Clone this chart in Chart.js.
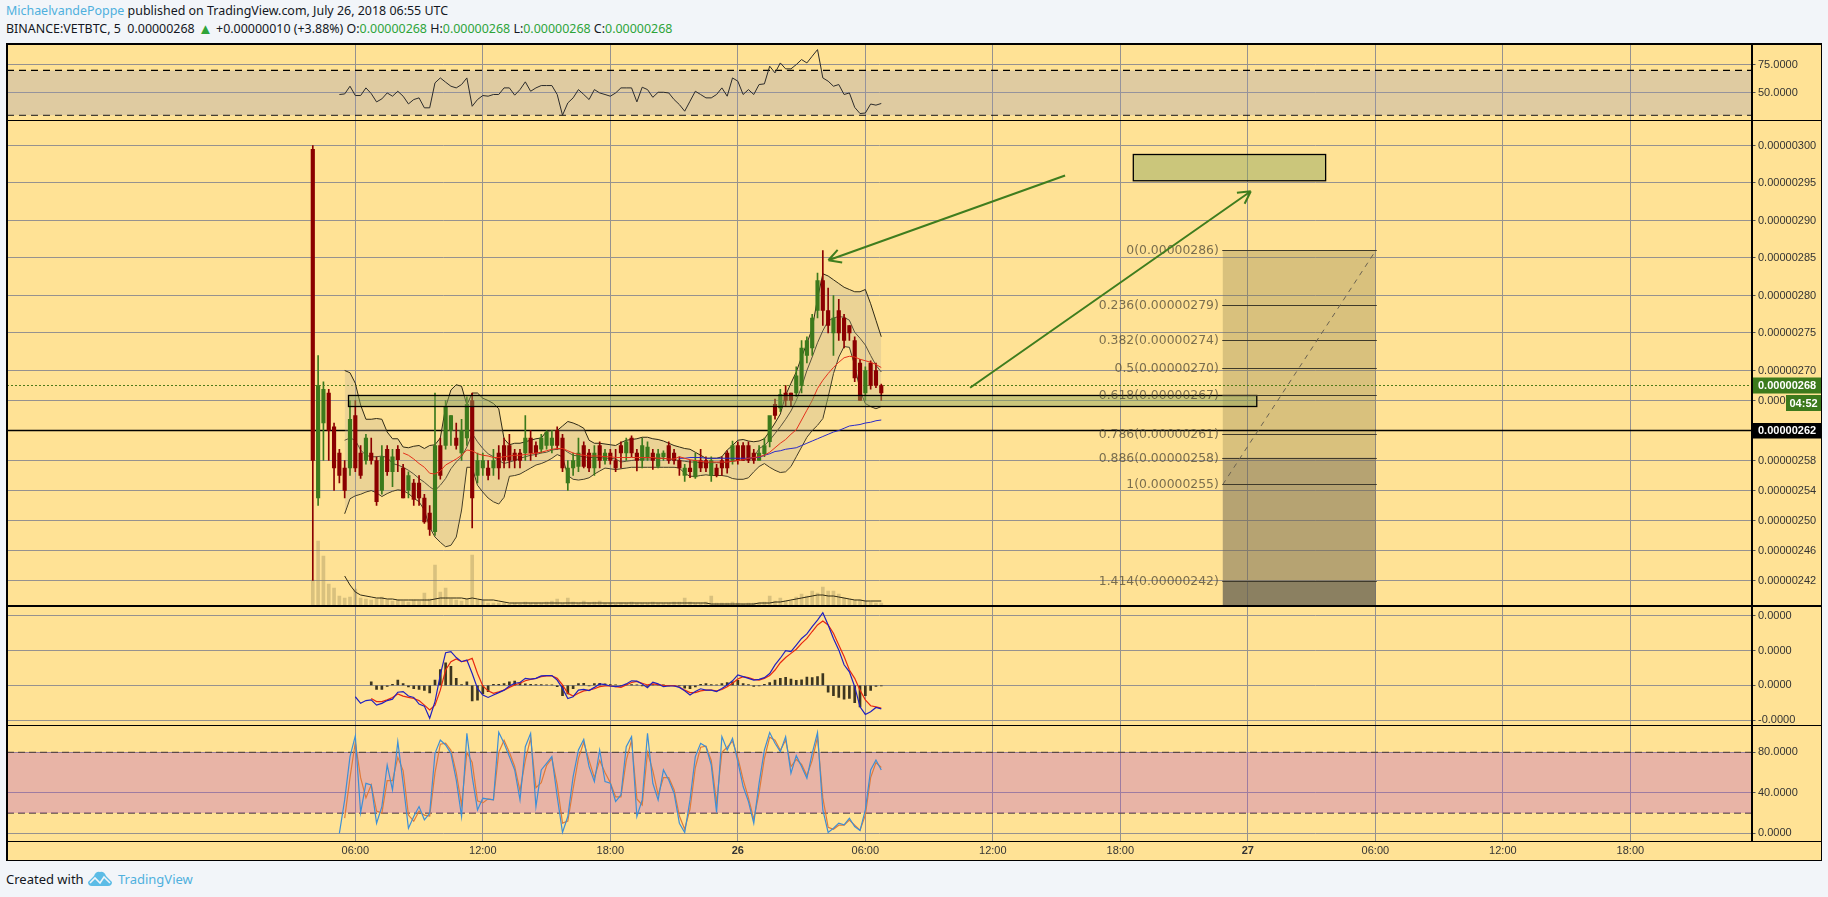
<!DOCTYPE html>
<html>
<head>
<meta charset="utf-8">
<title>VETBTC</title>
<script src="https://cdn.jsdelivr.net/npm/chart.js@4"></script>
<style>
  html, body { margin: 0; padding: 0; background: #f2f5f9; width: 1828px; height: 897px; overflow: hidden; }
  body { position: relative; font-family: "Noto Sans", sans-serif; color: #131722; }
  canvas { position: absolute; left: 7px; background: #ffe295; }
  .head { position: absolute; left: 6px; font-size: 12.45px; white-space: nowrap; line-height: 16px; }
  .blue { color: #4fb0dd; }
  .green { color: #2ea43a; }
  .tri { font-size: 15px; line-height: 0; vertical-align: -1px; }
  .rule { position: absolute; background: #000; z-index: 5; }
  .foot { position: absolute; top: 869px; font-size: 13px; line-height: 20px; white-space: nowrap; }
</style>
</head>
<body>
<div class="head" style="top:3px"><span class="blue">MichaelvandePoppe</span> published on TradingView.com, July 26, 2018 06:55 UTC</div>
<div class="head" style="top:21px">BINANCE:VETBTC, 5&nbsp; 0.00000268 <span class="green tri">▲</span> +0.00000010 (+3.88%) O:<span class="green">0.00000268</span> H:<span class="green">0.00000268</span> L:<span class="green">0.00000268</span> C:<span class="green">0.00000268</span></div>

<canvas id="rsi" width="1814" height="76" style="top:44px"></canvas>
<canvas id="main" width="1814" height="486" style="top:120px"></canvas>
<canvas id="macd" width="1814" height="119" style="top:606px"></canvas>
<canvas id="stoch" width="1814" height="135" style="top:725px"></canvas>

<!-- frame and pane separators -->
<div class="rule" style="left:6px;top:43px;width:1816px;height:1.5px"></div>
<div class="rule" style="left:6px;top:119.5px;width:1816px;height:1.5px"></div>
<div class="rule" style="left:6px;top:605px;width:1816px;height:1.5px"></div>
<div class="rule" style="left:6px;top:724.5px;width:1816px;height:1.5px"></div>
<div class="rule" style="left:6px;top:840.5px;width:1816px;height:1.5px"></div>
<div class="rule" style="left:6px;top:859.5px;width:1816px;height:1.5px"></div>
<div class="rule" style="left:6px;top:43px;width:1.5px;height:818px"></div>
<div class="rule" style="left:1820.5px;top:43px;width:1.5px;height:818px"></div>
<div class="rule" style="left:1751px;top:43px;width:1.5px;height:798px"></div>

<div class="foot" style="left:6px">Created with</div>
<svg style="position:absolute;left:88px;top:871px" width="24" height="15" viewBox="0 0 24 15">
  <path d="M0 11 L6 5 Q8 0 12 1 Q16 0 18 5 L24 11 Q24 15 20 15 L4 15 Q0 15 0 11Z" fill="#5cbce6"/>
  <path d="M2 12 L7 7 L12 12 L16 6 L22 12" fill="none" stroke="#f2f5f9" stroke-width="1.6"/>
</svg>
<div class="foot blue" style="left:118px">TradingView</div>

<script>
// candles, 15 minute steps from 04:00 on the 25th, price in satoshi
const opens = [299.5,253,263,267,262.5,259,257,257,264,259,258,259,258,254,259.5,256.5,259.5,257,254,255,255,253,251,248.5,260,260,262,261,259,261,266,256,257,257,257,259,260,260,259,259,259,261,260,259.5,260,260,262,261,255,257,257.2,260,259,257,260,258,259,258,
  260,259,261,259,258,258.5,259,257.2,258.5,260,259,258,256,257,255.8,258,258,256,257,258,259,258,260,260,260,259,258,258.9,260.5,265.5,265,267,267,267,268,272,273,278,282,278,275,278,277,276,274,271,267,271,270,268];
const closes = [258,268,267.5,262,257,256,254,263.5,257,256,261,258,252.5,258.5,256.5,258.5,258.1,253,256,252.8,253,249.8,248.8,260,256,265.2,264,260,262,265.5,253,258,258,256,258,257,258,258,258,258,261,259,259,261,261.8,261,260,257,257,258,259,257.2,257,259,258,259,258,257,
  259,260.5,259,258,260,259.8,258,258.9,259,258,258,257,257,256.5,258,257,257,258,256,257,257,260,258,258,258,258,259,260,264,264,266.8,266,266,269.3,273,274,277,282,278,276,277,275,274,275,269,266,270,268,268,267];
const highs = [300,272,268.5,267.5,263,259.5,258,266,266,260,261.5,261,258.5,260,260,259.5,260,257.5,256.5,255.5,256,253.5,252,267,261,266,264,263,263.5,266.5,267,259,259,258,259.5,260,261,261.5,259.5,259.5,264,262,260.5,261.5,262,262,262.5,261.5,258,259,261,260.5,259.5,260,260.5,259.5,259.5,259.5,
  260.5,261,261.3,259.5,261,260.5,259.5,259.5,259.3,260.5,259.5,258.5,257.5,258,259,259.5,258.5,258.5,257.5,258.5,259.3,260.6,260.5,260.4,260.5,259.5,260,261,263,266.2,267.5,268,267,270.5,274,274.5,277.5,283,286,281,280,279.5,277.5,276,274.5,271.5,270.5,271.3,271,268.2];
const lows = [242,252,258,258,254,255,253,256,256.5,255.6,257.5,257.5,252,253.5,256,254.5,256.5,253,253,252,252,249.6,248,248,255.5,259.5,260,259.5,258,260,249,255,256,255.4,256,255.5,257,257,257,257,258,258,258.5,259,259.5,259,259.5,256.5,254,256,256.5,257,256.5,256,257,257.5,257.5,256.5,
  257,258,258.5,256.6,257,258,256.8,257,258,257.6,257.5,256,255.2,255.7,255.6,256.5,256.5,255.2,255.8,256,256.3,257.5,257.5,258,257.7,257.6,258,258.5,259.8,263.5,264.5,265.2,265.2,266.5,267,271,272,277,276,275,272,274,273,274,268.5,266,266,267.5,267.7,266];
const volumes = [26,65,50,22,18,10,8,9,17,8,7,6,7,9,6,5,6,5,4,6,5,13,7,41,14,18,7,6,5,7,51,6,5,3,3,3,3,2,3,2,4,3,3,3,4,5,7,3,8,4,3,5,3,4,5,3,3,2,
  3,3,4,3,3,3,4,3,3,3,4,4,8,4,3,3,4,10,3,3,3,4,3,2,3,3,3,4,10,5,8,5,5,9,12,10,15,13,19,15,15,12,8,7,6,6,5,4,3,3];

// bollinger bands, these start at candle 6
const bbUpper = [270,269.7,268.3,265.4,263.5,263.5,263.6,263.5,261.8,260.9,260.9,259.8,259.7,259.9,260,259.6,260,260.1,261,265.1,267.4,268.1,267.9,265.4,267,267,266.3,266,265.6,264.9,260.9,260.1,260.3,260.3,260.5,260.7,260.9,261,261.9,262,262,262.6,263.2,263,262.7,262.3,260.7,260.3,260.3,260.2,260.1,260,
  260.4,260.7,260.8,260.9,261.1,261.1,260.9,260.8,260.6,260.3,260,259.8,259.6,259.5,259.1,258.7,258.3,258.3,258.3,258.5,259.4,260,260.7,260.8,260.6,260.5,260.6,260.9,261.9,263,264.2,266.7,268.3,269.8,271.8,273.6,275.6,279.6,282.9,282.6,282.1,281.6,281.1,280.8,280.5,280.5,280.8,278.9,276.7,274.5];
const bbBasis = [260.7,261,260.7,259.4,258.7,258.5,258.5,258.6,258.4,257.6,257.4,257.1,256.7,256.2,255.6,255.1,254.5,254,254.7,255.6,256.9,257.8,258.5,259.8,261.6,260.5,259.6,258.9,258.5,258,257.6,257.8,258,258.3,258.5,258.7,258.8,259,259.1,259.4,259.5,259.6,259.1,258.7,258.6,258.5,258.4,258.4,258.4,258.3,258.3,258.2,
  257.8,257.9,258,258.1,258.2,258.2,258.2,258.3,258.3,258.2,258.1,258,257.9,257.8,257.8,257.7,257.7,257.7,257.7,257.7,257.8,257.9,258,258.1,258.2,258.4,259.6,260,260.7,261.6,262.5,263.5,264.6,266,267.8,270,271.8,273.7,275.3,276.6,277,277.2,277.1,276.7,275.1,274.3,273.4,272,270.7,269.8];
const bbLower = [250.9,252.9,253.3,253.5,253.8,254,253.7,253.2,253.6,253.9,254.1,254,253.6,253,252.5,251.4,249.1,247.8,247.1,246.5,246.7,247.8,251.4,257.1,257.1,254.7,253.8,253,252.5,252.2,253.1,255.9,256,256.2,256.6,257,257.4,257.6,257.9,258.3,258.8,258.5,256,255.5,255.4,255.5,255.7,256.2,256.6,257,256.9,256.8,
  256.9,257,257.1,257.1,257.1,257.1,257.1,257.1,257.1,257.1,257.1,257,256.3,255.9,255.9,256,256.1,256,256,256,255.9,255.6,255.5,255.5,255.7,256.5,257.2,257.6,257.1,256.7,256.4,256.5,257.2,258.5,259.8,261.1,262,262.7,263.6,266.5,269.6,271.8,273.2,273.1,270.7,267.4,265.6,265.2,264.9,265.2];
// moving averages, red from candle 17, blue from candle 69
const emaRed = [259,258.7,258.2,257.6,257.1,256.3,256.2,256.6,257.4,257.8,258.2,258.7,259.4,259.3,258.9,258.7,258.6,258.4,258.4,258.5,258.6,258.7,258.7,258.8,258.9,259,259.1,259.3,259.5,259.6,259.6,259.3,259,258.8,258.7,258.6,258.6,258.6,258.5,258.5,258.4,
  258.4,258.4,258.4,258.4,258.4,258.4,258.4,258.3,258.3,258.2,258.2,258.5,258.3,258.1,258,257.9,257.8,257.8,257.8,257.8,257.8,257.9,258,258.1,258.3,258.4,258.5,258.7,259.1,259.7,260.3,260.8,261.5,262.1,263.4,264.7,266,267.6,268.7,269.6,270.4,271.1,271.7,271.9,271.8,271.5,271.3,271.1,270.8,270.4];
const emaBlue = [258.3,258.3,258.4,258.4,258.4,258.3,258.3,258.3,258.3,258.3,258.3,258.3,258.3,258.3,258.4,258.4,258.7,258.9,259.2,259.3,259.5,259.6,259.7,260,260.3,260.6,260.9,261.2,261.5,261.8,262,262.3,262.6,262.7,262.8,263,263.1,263.3,263.4];
const volumeMa = [30,21,14,11,10,9,8,8,7,7,6,6,6,6,6,6,6,7,8,8,8,8,8,7,8,7,6,6,6,5,4,3,3,3,3,3,3,3,3,3,3,3,3,3,3,3,3,3,3,3,3,3,
  3,3,3,3,3,3,3,3,3,3,3,3,3,3,3,3,3,2,2,2,2,2,2,2,2,2,3,3,3,4,4,5,6,7,8,9,10,11,11,10,10,9,8,7,6,6,5,5,5,5];

// rsi from candle 5
const rsiValues = [48.5,49,55.9,47.6,47.6,54.4,49.3,41.9,44.6,49.9,47,51.4,47,40.1,44,45.5,36.6,36.6,58.9,63.3,59.5,55.9,54.4,57.4,63.3,38,44,47.6,47,48.5,48.5,54.4,54.4,47.9,52.9,59.8,51.4,54.4,56.5,56.5,56.5,48.5,30,41,45.5,52.9,48.5,44,52.9,49.9,48.5,47,49.9,
  54.4,54.4,54.4,41.9,55,52.9,46,50.5,50.5,49.9,44,39.5,33.6,42.5,51.4,48.5,45.5,45.5,48.5,54.4,47,63.3,60.4,48.5,52.9,48.5,57.4,58,73.8,67.8,76.7,71.4,71.4,75.2,79.7,76.7,82.7,88.6,63.3,60.4,55.9,57.4,48.5,49.9,37,31.5,32,40,39,40.5];

// macd from candle 8, signal and histogram from candle 11
const macdLine = [-3.3,-5.2,-4.4,-4.2,-5.7,-5.2,-4.4,-4,-2,-1.8,-3.1,-3.5,-5.4,-6,-9.5,-4.7,3,9.4,9.7,8,6.8,7.3,3.4,-0.9,-2.8,-3.5,-2.8,-2.1,-1.4,-0.2,0.6,0.8,2,1.8,2,2.7,2.8,2.8,1.5,-0.9,-3.8,-3.3,-1.4,-1.2,-1.5,-0.6,0.4,0.2,-0.2,-0.4,
  -0.2,0.4,1.3,1.2,0.4,-0.7,0.9,0.4,-0.4,-0.2,-0.2,-0.6,-1.6,-2.8,-1.8,-1,-1.4,-1.4,-1.8,-0.9,0.1,1.3,3,2.5,2,1.5,1.7,2.2,3.4,5.9,7.8,10,9.7,11.6,13.5,14.8,16.9,18.8,20.9,17.4,13.5,10.2,5.9,3.9,-0.4,-6.2,-8.4,-7.6,-6.4,-6.8];
const macdSignal = [-3.8,-4.7,-4.7,-4.2,-3.5,-2.5,-3.1,-3.5,-3.8,-4.4,-5.7,-7.1,-5.7,-1.4,4.4,6.8,7.6,6.8,7.1,7.8,3.4,-0.2,-1.6,-2.3,-1.9,-1.4,-0.6,0.1,0.6,1.3,1.7,2,2.5,2.7,2.7,2,0.1,-2.3,-3.1,-2.3,-1.6,-1.4,-1,-0.4,-0.2,-0.2,-0.4,
  -0.6,0.1,0.8,1.1,0.6,0.1,0.4,0.2,0,-0.1,-0.1,-0.5,-1.4,-2.1,-2.1,-1.6,-1.4,-1.4,-1.6,-1.2,-0.4,0.6,1.8,2.5,2.2,1.7,1.5,2,2.8,4.4,6.5,8,9.2,10.4,12.1,13.5,15.5,17.4,18.5,17.4,15,11.6,8.3,4.4,2,-1.4,-4.2,-5.9,-6.2,-6.6];
const macdHist = [1,-1.2,-1.2,-0.3,0.3,1.5,0.5,-0.5,-1,-1.2,-1.5,-2.2,1.5,4.5,6.5,5.5,2,0.2,1,-4.5,-4.3,-2.5,-1.8,0.3,0.3,0.5,1,1.2,0.8,0.4,0.3,0.2,0.2,0.1,0.1,-0.4,-3,-2.5,-1,0.5,0.6,-0.2,0.5,0.6,0.4,0.2,0.1,
  -0.1,0.1,0.2,0.1,-0.1,-0.3,0.2,0.1,0.1,-0.1,-0.1,-0.2,-0.8,-1,-0.5,0.3,0.5,0.2,0.1,0.5,0.8,1,1.4,0.5,0.2,-0.3,-0.2,0.3,0.8,1.5,2,2.3,1.8,1.4,1.6,2.4,2.2,2.5,3.4,-2,-3,-3.5,-4,-3.8,-5,-6.2,-3,-1.5,-0.3,-0.2];

// stochastic, K from candle 5, D from candle 6
const stochK = [0,33,75.8,96.2,20.5,49.4,47.8,10,26.4,67.5,42.9,90.6,49.4,5,16.6,26.4,13.3,19.8,79,92.2,87.3,79,52.7,16.6,98.8,56,23.1,34.6,33.7,33,99.8,88.9,75.8,62.6,33,85.6,98.8,26.4,62.6,69.2,75.8,36.3,0.8,16.6,56,82.3,92.9,65.9,51.1,82.3,51.1,49.4,31.4,
  37.9,85.6,95.5,16.6,33,98.8,49.4,33,62.6,52.7,39.6,10,0.8,33,75.8,88.9,85.6,67.5,20.5,95.5,82.3,93.9,70.8,46.2,31.4,10,49.4,82.3,99.5,88.9,80.7,95.5,59.3,76.7,65.9,54.4,79,99.5,23.1,0.8,5,10,8.3,14.9,6.7,2.7,23.1,62.6,72.5,62.6];
const stochD = [15,55,90,55,35,48,22,20,52,52,75,62,18,12,22,18,17,60,88,89,82,60,28,80,70,32,30,34,33,80,92,80,66,42,72,94,45,50,67,74,48,10,12,44,74,90,72,55,72,60,50,36,
  36,72,92,34,28,80,62,38,55,55,43,17,4,24,65,85,86,72,30,80,85,91,75,53,35,14,40,74,95,92,82,92,66,73,68,57,72,95,35,6,4,8,8,13,8,3,18,55,70,65];

// axis ticks
const timeTicks = [6,12,18,24,30,36,42,48,54,60,66];
const timeLabels = ['06:00','12:00','18:00','26','06:00','12:00','18:00','27','06:00','12:00','18:00'];
const priceTicks = [300,295,290,285,280,275,270,266,258,254,250,246,242];
const rsiTicks = [75,50];
const macdTicks = [20,10,0,-10];
const stochTicks = [80,40,0];

// price lines and boxes
const lastPrice = 268;
const markedPrice = 262;

// fib retracement
const fibRatios = ['0','0.236','0.382','0.5','0.618','0.786','0.886','1','1.414'];
const fibPrices = [286,279,274,270,267,261,258,255,242];
const fibLines = [286,278.7,274.1,270.4,266.7,261.5,258.4,254.8,241.9];
const fibHours = [46.82,54.02];

// drawn zones as [hour, hour, top price, bottom price], arrows as [hour, price, hour, price]
const zoneLong = [5.68,48.42,266.67,265.2];
const zoneTarget = [42.61,51.66,298.8,295.3];
const arrowDown = [39.4,296,28.26,284.7];
const arrowUp = [34.93,267.7,48.14,293.9];

const barHours = opens.map((_, i) => 4 + i * 0.25);
const xMin = -10.39, xMax = 71.7;

const GRID = '#96928f';
const DARK = '#2f2a15';
const UP = '#3c7a1c';
const DOWN = '#8b0000';

Chart.defaults.font.family = '"Liberation Sans", Arial, sans-serif';
Chart.defaults.font.size = 11;
Chart.defaults.color = '#333333';
Chart.defaults.animation = false;

// puts a list of values on the candle times, starting at candle "from"
function serie(valores, from) {
  return valores.map((v, j) => ({ x: barHours[from + j], y: v }));
}

function hline(value, color, dash, width, fill, fillColor) {
  return {
    type: 'line',
    data: [{ x: xMin, y: value }, { x: xMax, y: value }],
    borderColor: color,
    borderDash: dash,
    borderWidth: width,
    pointRadius: 0,
    fill: fill || false,
    backgroundColor: fillColor,
    order: 9
  };
}

function curve(data, color, width, order) {
  return { type: 'line', data, borderColor: color, borderWidth: width, pointRadius: 0, tension: 0, fill: false, order };
}

function baseOptions(yMin, yMax, ticks, format, showTime) {
  return {
    responsive: false,
    animation: false,
    events: [],
    layout: { padding: 0 },
    plugins: { legend: { display: false }, tooltip: { enabled: false } },
    scales: {
      x: {
        type: 'linear',
        min: xMin,
        max: xMax,
        offset: false,
        afterBuildTicks: s => { s.ticks = timeTicks.map(v => ({ value: v })); },
        afterFit: s => { s.height = showTime ? 19 : 0; s.paddingLeft = 0; s.paddingRight = 0; },
        border: { display: false },
        grid: { color: GRID, lineWidth: 1, drawTicks: false, offset: false },
        ticks: {
          display: showTime,
          autoSkip: false,
          maxRotation: 0,
          padding: 3,
          callback: (v) => timeLabels[timeTicks.indexOf(v)],
          font: ctx => ({ weight: timeLabels[ctx.index] && timeLabels[ctx.index].length === 2 ? 'bold' : 'normal', size: 11 })
        }
      },
      y: {
        position: 'right',
        min: yMin,
        max: yMax,
        afterBuildTicks: s => { s.ticks = ticks.map(v => ({ value: v })); },
        afterFit: s => { s.width = 69.5; s.paddingTop = 0; s.paddingBottom = 0; },
        border: { display: false },
        grid: { color: GRID, lineWidth: 1, tickLength: 4, tickColor: '#555' },
        ticks: {
          autoSkip: false,
          padding: 2.5,
          callback: format
        }
      }
    }
  };
}

// arrow with an open head, in data coordinates
function drawArrow(ctx, sx, sy, a) {
  const x0 = sx.getPixelForValue(a[0]), y0 = sy.getPixelForValue(a[1]);
  const x1 = sx.getPixelForValue(a[2]), y1 = sy.getPixelForValue(a[3]);
  const ang = Math.atan2(y1 - y0, x1 - x0);
  ctx.strokeStyle = '#3f7d1e';
  ctx.lineWidth = 2;
  ctx.setLineDash([]);
  ctx.beginPath();
  ctx.moveTo(x0, y0);
  ctx.lineTo(x1, y1);
  for (const d of [-0.5, 0.5]) {
    ctx.moveTo(x1, y1);
    ctx.lineTo(x1 - 14 * Math.cos(ang + d), y1 - 14 * Math.sin(ang + d));
  }
  ctx.stroke();
}

function drawZone(ctx, sx, sy, z) {
  const x = sx.getPixelForValue(z[0]), w = sx.getPixelForValue(z[1]) - x;
  const y = sy.getPixelForValue(z[2]), h = sy.getPixelForValue(z[3]) - y;
  ctx.fillStyle = 'rgba(140,165,90,0.45)';
  ctx.fillRect(x, y, w, h);
  ctx.strokeStyle = '#000';
  ctx.lineWidth = 1.3;
  ctx.strokeRect(x, y, w, h);
}

// axis price box
function priceBox(ctx, x, y, w, h, color, text) {
  ctx.fillStyle = color;
  ctx.fillRect(x, y, w, h);
  ctx.fillStyle = '#fff';
  ctx.font = 'bold 11px "Liberation Sans"';
  ctx.textAlign = 'left';
  ctx.textBaseline = 'middle';
  ctx.fillText(text, x + 6.5, y + h / 2 + 0.5);
}

const fibPlugin = {
  id: 'fib',
  beforeDatasetsDraw(chart) {
    const { ctx, chartArea, scales: { x, y } } = chart;
    const left = x.getPixelForValue(fibHours[0]), right = x.getPixelForValue(fibHours[1]);
    const w = right - left;
    ctx.save();
    // shaded fib zones
    const yTop = y.getPixelForValue(fibLines[0]);
    const yMid = y.getPixelForValue(fibLines[6]);
    const yLow = y.getPixelForValue(fibLines[8]);
    ctx.fillStyle = 'rgba(130,115,70,0.3)';
    ctx.fillRect(left, yTop, w, yMid - yTop);
    ctx.fillStyle = 'rgba(110,100,80,0.5)';
    ctx.fillRect(left, yMid, w, yLow - yMid);
    ctx.fillStyle = 'rgba(100,95,80,0.75)';
    ctx.fillRect(left, yLow, w, chartArea.bottom - yLow);
    ctx.restore();
  },
  afterDatasetsDraw(chart) {
    const { ctx, scales: { x, y } } = chart;
    const left = x.getPixelForValue(fibHours[0]), right = x.getPixelForValue(fibHours[1]);
    ctx.save();
    drawZone(ctx, x, y, zoneLong);
    drawZone(ctx, x, y, zoneTarget);
    // levels and their text
    ctx.font = '12.4px "DejaVu Sans"';
    ctx.textAlign = 'right';
    ctx.textBaseline = 'middle';
    fibLines.forEach((v, i) => {
      const py = Math.round(y.getPixelForValue(v)) + 0.5;
      ctx.strokeStyle = '#3f3a2a';
      ctx.lineWidth = 1;
      ctx.beginPath();
      ctx.moveTo(left - 0.5, py);
      ctx.lineTo(right + 1, py);
      ctx.stroke();
      ctx.fillStyle = 'rgba(70,65,50,0.72)';
      ctx.fillText(`${fibRatios[i]}(${(fibPrices[i] / 1e8).toFixed(8)})`, left - 4, py);
    });
    // dashed trend line
    ctx.strokeStyle = '#6a6250';
    ctx.setLineDash([5, 5]);
    ctx.beginPath();
    ctx.moveTo(left, y.getPixelForValue(fibLines[7]));
    ctx.lineTo(right, y.getPixelForValue(fibLines[0]));
    ctx.stroke();
    drawArrow(ctx, x, y, arrowDown);
    drawArrow(ctx, x, y, arrowUp);
    ctx.restore();
  },
  afterDraw(chart) {
    const { ctx, chartArea, scales: { y } } = chart;
    const ax = chartArea.right;
    ctx.save();
    const py = y.getPixelForValue(lastPrice);
    priceBox(ctx, ax, py - 8, 69.5, 16, '#3c7a1c', (lastPrice / 1e8).toFixed(8));
    ctx.fillStyle = '#3c7a1c';
    ctx.fillRect(ax + 34.5, py + 9.5, 35, 16);
    ctx.fillStyle = '#fff';
    ctx.font = 'bold 11px "Liberation Sans"';
    ctx.textAlign = 'left';
    ctx.textBaseline = 'middle';
    ctx.fillText('04:52', ax + 38, py + 18);
    priceBox(ctx, ax, y.getPixelForValue(markedPrice) - 7.5, 69.5, 15.5, '#000', (markedPrice / 1e8).toFixed(8));
    ctx.restore();
  }
};

const priceFormat = decimals => v => (v / 1e8).toFixed(decimals);
const plainFormat = v => v.toFixed(4);

// rsi pane
new Chart(document.getElementById('rsi'), {
  type: 'line',
  data: {
    datasets: [
      hline(70, '#000', [7, 5], 1.2, '+1', 'rgba(150,150,190,0.3)'),
      hline(30, '#000', [7, 5], 1.2),
      curve(serie(rsiValues, 5), '#2b2b2b', 1, 1)
    ]
  },
  options: baseOptions(25.74, 93.6, rsiTicks, plainFormat, false)
});

// main pane
const mainOptions = baseOptions(238.6, 303.4, priceTicks, priceFormat(8), false);
mainOptions.scales.yVol = { display: false, min: 0, max: 486, position: 'left' };
new Chart(document.getElementById('main'), {
  type: 'bar',
  data: {
    datasets: [
      hline(lastPrice, '#4f7a1a', [2, 2], 1),
      hline(markedPrice, '#000', [], 1.4),
      {
        type: 'bar',
        yAxisID: 'yVol',
        data: serie(volumes, 0),
        backgroundColor: 'rgba(150,135,85,0.36)',
        barThickness: 3,
        grouped: false,
        order: 8
      },
      { ...curve(serie(volumeMa, 6), DARK, 1, 7), yAxisID: 'yVol' },
      { ...curve(serie(bbUpper, 6), DARK, 1, 6), fill: '+2', backgroundColor: 'rgba(190,175,150,0.3)' },
      curve(serie(bbBasis, 6), DARK, 1, 6),
      curve(serie(bbLower, 6), DARK, 1, 6),
      {
        type: 'bar',
        data: barHours.map((h, i) => ({ x: h, y: [lows[i], highs[i]] })),
        backgroundColor: closes.map((c, i) => (c >= opens[i] ? UP : DOWN)),
        barThickness: 1,
        grouped: false,
        order: 3
      },
      {
        type: 'bar',
        data: barHours.map((h, i) => ({ x: h, y: [opens[i], closes[i]] })),
        backgroundColor: closes.map((c, i) => (c >= opens[i] ? UP : DOWN)),
        barThickness: 3.5,
        grouped: false,
        order: 2
      },
      curve(serie(emaRed, 17), '#e4311c', 1, 1),
      curve(serie(emaBlue, 69), '#2a2ac8', 1, 1)
    ]
  },
  options: mainOptions,
  plugins: [fibPlugin]
});

// macd pane
new Chart(document.getElementById('macd'), {
  type: 'bar',
  data: {
    datasets: [
      {
        type: 'bar',
        data: serie(macdHist, 11),
        backgroundColor: '#3d3620',
        barThickness: 2,
        grouped: false,
        order: 3
      },
      curve(serie(macdSignal, 11), '#e8280f', 1.2, 2),
      curve(serie(macdLine, 8), '#2020c0', 1.2, 1)
    ]
  },
  options: baseOptions(-11.44, 22.85, macdTicks, priceFormat(4), false)
});

// stochastic pane
new Chart(document.getElementById('stoch'), {
  type: 'line',
  data: {
    datasets: [
      hline(80, '#5a4a48', [7, 4], 1.2, '+1', 'rgba(178,73,204,0.3)'),
      hline(20, '#5a4a48', [7, 4], 1.2),
      curve(serie(stochD, 6), '#e07b39', 1.2, 2),
      curve(serie(stochK, 5), '#3d8fd6', 1.2, 1)
    ]
  },
  options: baseOptions(-7.6, 107, stochTicks, plainFormat, true)
});
</script>
</body>
</html>
